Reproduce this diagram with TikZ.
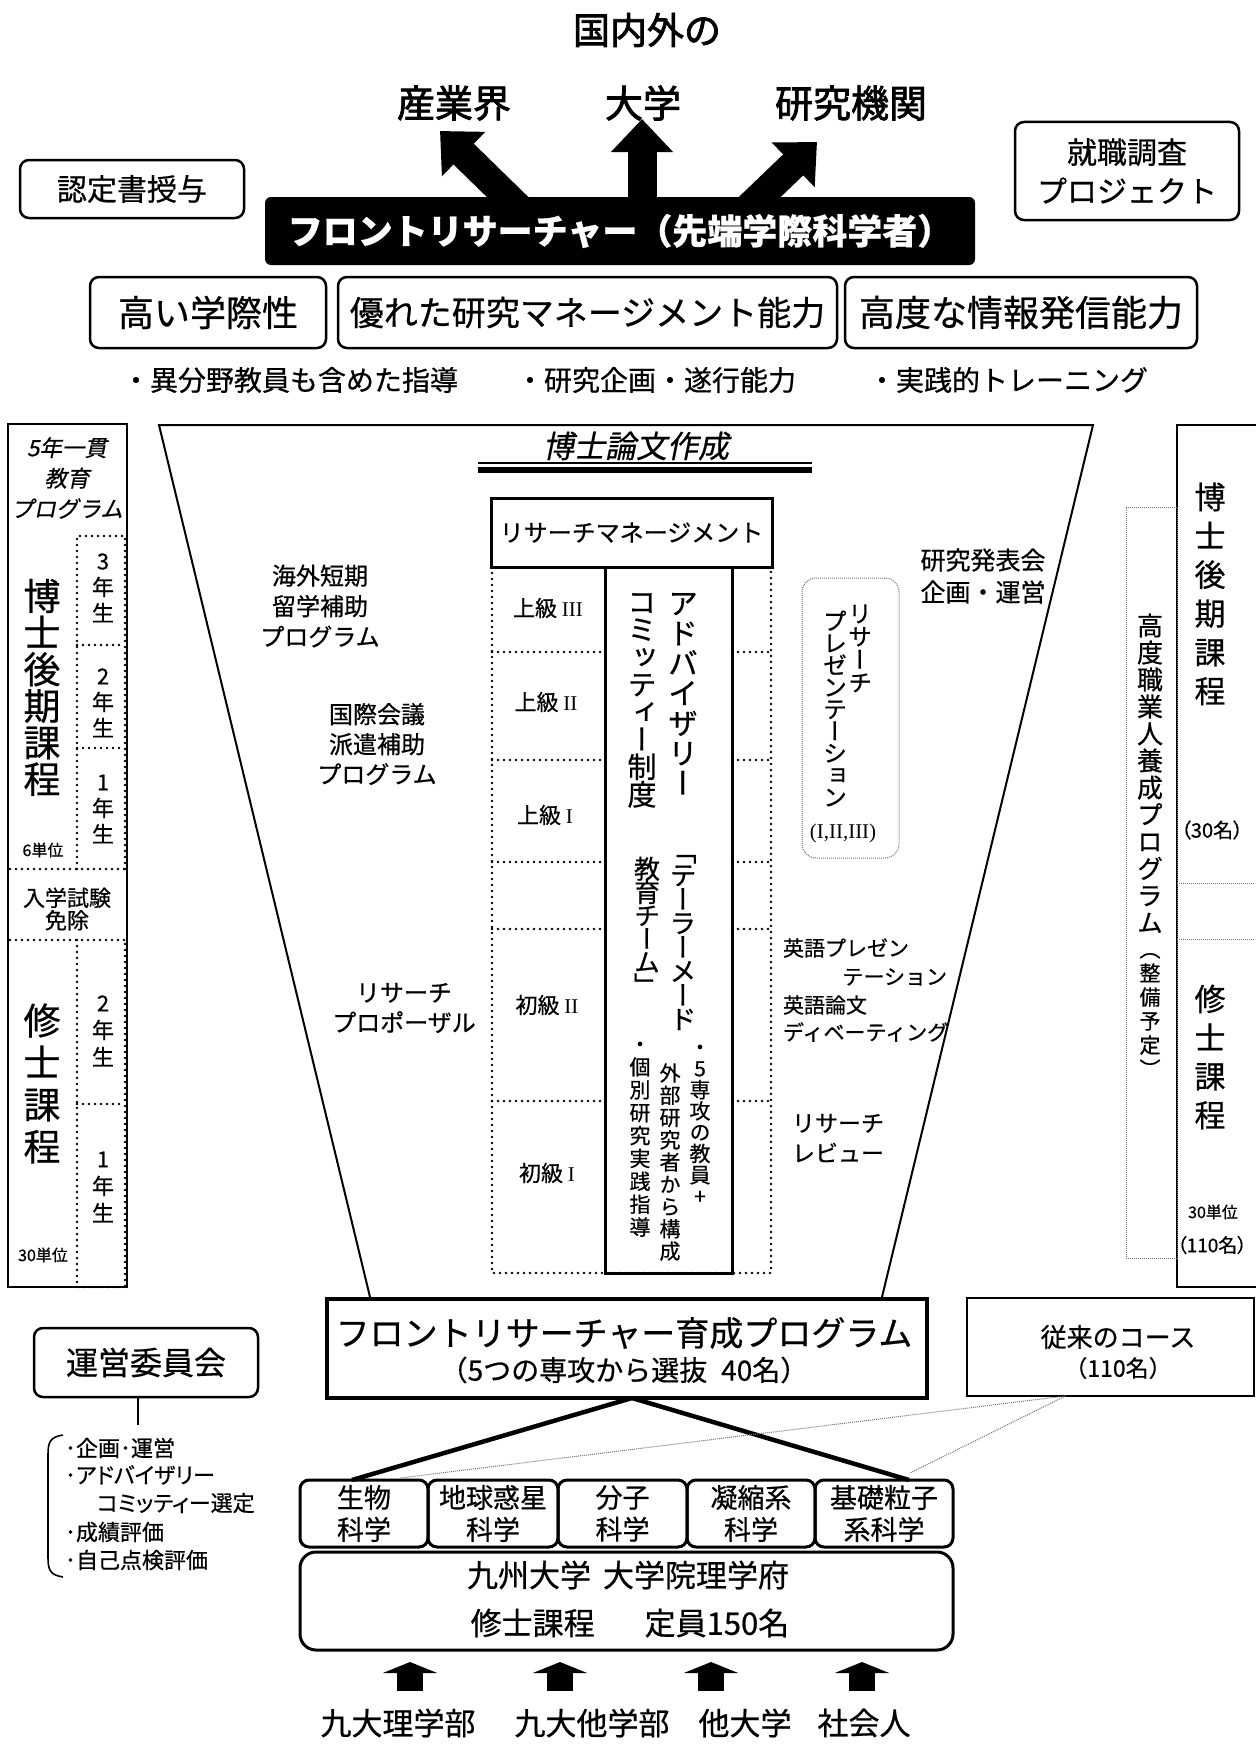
\documentclass[tikz,border=0pt]{standalone}
\usepackage{fontspec}
\setmainfont{Noto Sans CJK JP}[FakeBold=0.6]
\newfontfamily\vfont[RawFeature=+vert,FakeBold=0.6]{Noto Sans CJK JP}
\newfontfamily\slfont[FakeSlant=0.2,FakeBold=0.6]{Noto Sans CJK JP}
\newfontfamily\pfont[RawFeature=+palt,FakeBold=0.6]{Noto Sans CJK JP}
\newfontfamily\tfont[FakeBold=2]{Noto Sans CJK JP}
\newfontfamily\rmn{Liberation Serif}
\usetikzlibrary{arrows.meta,calc}
\newcommand\fs[1]{\fontsize{#1}{#1}\selectfont}
\newcommand\fsb[2]{\fontsize{#1}{#2}\selectfont}
\makeatletter
\newdimen\vtp
\def\vtend{\vtend}
\newcommand\vt[2]{\vtp=#1\relax\vbox{\offinterlineskip\vt@loop#2\vtend}}
\def\vt@loop#1{\ifx\vtend#1\else\vt@cell{#1}\expandafter\vt@loop\fi}
\def\vt@cell#1{\hbox to 1.3em{\hss\vbox to\vtp{\vss\hbox{\vrule height .88em depth .12em width 0pt\relax#1}\vss}\hss}}
\makeatother
\begin{document}
\begin{tikzpicture}[x=1pt,y=-1pt,
  every node/.style={inner sep=0pt, outer sep=0pt},
  rbox/.style={draw, line width=2.5pt, rounded corners=9pt},
  bdot/.style={line width=2.6pt, dash pattern=on 0pt off 6pt, line cap=round},
  fdot/.style={draw=black!55, line width=1pt, dash pattern=on 1pt off 1pt},
  bigup/.style={line width=29pt, -{Triangle[width=60pt,length=33pt]}},
  smallup/.style={line width=26pt, -{Triangle[width=54pt,length=11pt]}}]
\fill[white] (0,0) rectangle (1255,1758);
\useasboundingbox (0,0) rectangle (1255,1758);

% ---------- top ----------
\node[font=\tfont\fs{37}] (kokunai) at (647,30) {国内外の};
\node[font=\tfont\fs{38}] (sangyo) at (454,103) {産業界};
\node[font=\tfont\fs{38}] (daigaku) at (643,103) {大学};
\node[font=\tfont\fs{38}] (kenkyu) at (851,103) {研究機関};

\coordinate (a1s) at (526,215); \coordinate (a1e) at (440,131);
\coordinate (a2s) at (642,215); \coordinate (a2e) at (642,119);
\coordinate (a3s) at (741,215); \coordinate (a3e) at (817,142);
\draw[bigup] (a1s) -- (a1e);
\draw[bigup] (a2s) -- (a2e);
\draw[bigup] (a3s) -- (a3e);

\node[fill=black, rounded corners=6pt, minimum width=710pt, minimum height=68pt,
      text=white, font=\bfseries\fs{35}] (fr) at (620,231) {フロントリサーチャー（先端学際科学者）};

\node[rbox, minimum width=224pt, minimum height=58pt, font=\fs{30}] (nintei) at (132,189) {認定書授与};
\node[rbox, minimum width=224pt, minimum height=98pt, font=\fsb{30}{39}, align=center] (shushoku) at (1127,171) {就職調査\\プロジェクト};

\node[rbox, minimum width=236pt, minimum height=71pt, font=\fs{36}] (gakusai) at (208,312.5) {高い学際性};
\node[rbox, minimum width=499pt, minimum height=71pt, font=\fs{34}] (manage) at (587.5,312.5) {優れた研究マネージメント能力};
\node[rbox, minimum width=352pt, minimum height=71pt, font=\fs{36}] (hasshin) at (1021,312.5) {高度な情報発信能力};

\node[font=\fs{28}] (b1) at (290,380) {・異分野教員も含めた指導};
\node[font=\fs{28}] (b2) at (656,380) {・研究企画・遂行能力};
\node[font=\fs{28}] (b3) at (1008,380) {・実践的トレーニング};

% ---------- funnel ----------
\coordinate (f1) at (159,425); \coordinate (f2) at (1093,425);
\coordinate (f3) at (882,1297); \coordinate (f4) at (370,1297);
\draw[line width=2pt] (f4) -- (f1) -- (f2) -- (f3);

\node[font=\slfont\fs{31}] (hakuron) at (636,446) {博士論文作成};
\draw[line width=1.5pt] (478,463) -- (812,463);
\draw[line width=6pt] (478,470) -- (812,470);

\node[draw, line width=3pt, minimum width=281pt, minimum height=69pt, font=\fs{24}] (rm) at (631.5,532.5) {リサーチマネージメント};
\draw[bdot] (492,567) -- (492,1273) -- (771,1273) -- (771,567);
\foreach \yy in {652,760,862,929,1101} {
  \draw[bdot] (492,\yy) -- (605,\yy);
  \draw[bdot] (732,\yy) -- (771,\yy);
}
\node[draw, line width=3pt, minimum width=127pt, minimum height=706pt] (adv) at (668.5,920) {};

\node[font=\fs{22}] (j3) at (548,608) {上級 {\rmn\fs{21}III}};
\node[font=\fs{22}] (j2) at (546,702) {上級 {\rmn\fs{21}II}};
\node[font=\fs{22}] (j1) at (545,815) {上級 {\rmn\fs{21}I}};
\node[font=\fs{22}] (s2) at (547,1005) {初級 {\rmn\fs{21}II}};
\node[font=\fs{22}] (s1) at (547,1173) {初級 {\rmn\fs{21}I}};

\node[font=\vfont\fs{30}] (v1) at (683,693) {\vt{30pt}{アドバイザリー}};
\node[font=\vfont\fs{29}] (v2) at (642,698) {\vt{27.5pt}{コミッティー制度}};
\node[font=\vfont\fs{27}] (v3) at (683,935) {\vt{24pt}{「テーラーメード}};
\node[font=\vfont\fs{26}] (v4) at (647,927) {\vt{23.3pt}{教育チーム」}};
\node[font=\vfont\fs{21}] (v5) at (700,1121.5) {\vt{21.3pt}{・5専攻の教員+}};
\node[font=\vfont\fs{21}] (v6) at (670,1162) {\vt{22.25pt}{外部研究者から構成}};
\node[font=\vfont\fs{21}] (v7) at (640,1135.5) {\vt{22.9pt}{・個別研究実践指導}};

\node[fdot, rounded corners=14pt, minimum width=97pt, minimum height=280pt] (rp) at (850.5,718) {};
\node[font=\vfont\fs{24}] (rp1) at (860,648) {\vt{23pt}{リサーチ}};
\node[font=\vfont\fs{24}] (rp2) at (835,709) {\vt{22pt}{プレゼンテーション}};
\node[font=\rmn\fs{21}] (rp3) at (843,833) {(I,II,III)};

\node[font=\fsb{24}{30.5}, align=center] (kaigai) at (320,606) {海外短期\\留学補助\\プログラム};
\node[font=\fsb{24}{30}, align=center] (kokusai) at (377,744) {国際会議\\派遣補助\\プログラム};
\node[font=\fsb{24}{30}, align=center] (rprop) at (404,1008) {リサーチ\\プロポーザル};

\node[font=\fsb{25}{32}, align=center] (happyo) at (983,576) {研究発表会\\企画・運営};
\node[font=\fs{21}, anchor=west] (eigo1) at (783,948) {英語プレゼン};
\node[font=\fs{21}, anchor=east] (eigo2) at (947,977) {テーション};
\node[font=\fs{21}, anchor=west] (eigo3) at (783,1005) {英語論文};
\node[font=\fs{21}, anchor=west] (eigo4) at (783,1032) {ディベーティング};
\node[font=\fsb{23}{30}, align=left, anchor=west] (review) at (792,1138) {リサーチ\\レビュー};

% ---------- left column ----------
\node[draw, line width=2.5pt, minimum width=119pt, minimum height=863pt] (lcol) at (67.5,855.5) {};
\draw[bdot] (77,869) -- (77,536) -- (125,536) -- (125,869);
\draw[bdot] (77,645) -- (125,645);
\draw[bdot] (77,748) -- (125,748);
\draw[bdot] (10,869) -- (125,869);
\draw[bdot] (10,940) -- (125,940);
\draw[bdot] (77,940) -- (77,1287) -- (125,1287) -- (125,940);
\draw[bdot] (77,1104) -- (125,1104);

\node[font=\slfont\fsb{22.5}{30.5}, align=center] (ikkan) at (67,478) {5年一貫\\教育\\プログラム};
\node[font=\vfont\fs{37}] (hakase) at (42,687.5) {\vt{36.6pt}{博士後期課程}};
\node[font=\vfont\fs{22}] (y3) at (103,587) {\vt{26pt}{3年生}};
\node[font=\vfont\fs{22}] (y2) at (103,702) {\vt{26pt}{2年生}};
\node[font=\vfont\fs{22}] (y1) at (103,808) {\vt{26pt}{1年生}};
\node[font=\fs{16}] (u6) at (43,850) {6単位};
\node[font=\fsb{22}{22.5}, align=center] (menjo) at (67,909) {入学試験\\免除};
\node[font=\vfont\fs{37}] (shushi) at (42,1083.5) {\vt{42pt}{修士課程}};
\node[font=\vfont\fs{22}] (y2m) at (103,1030) {\vt{27pt}{2年生}};
\node[font=\vfont\fs{22}] (y1m) at (103,1186) {\vt{27pt}{1年生}};
\node[font=\fs{16}] (u30) at (43,1255) {30単位};

% ---------- right column ----------
\draw[line width=1.5pt] (1256,425) -- (1177,425) -- (1177,1287) -- (1256,1287);
\draw[fdot] (1177,883) -- (1255,883);
\draw[fdot] (1177,939) -- (1255,939);
\node[font=\vfont\fs{31}] (rhak) at (1210,594) {\vt{38.8pt}{博士後期課程}};
\node[font=\pfont\fs{20}] (r30) at (1212,830) {（30名）};
\node[font=\vfont\fs{31}] (rshu) at (1210,1057) {\vt{38.7pt}{修士課程}};
\node[font=\fs{16}] (r30u) at (1213,1212) {30単位};
\node[font=\pfont\fs{19}] (r110) at (1212,1245) {（110名）};

\node[fdot, minimum width=51pt, minimum height=751pt] (kodo) at (1151.5,882.5) {};
\node[font=\vfont\fs{26}] (kodot) at (1150,774) {\vt{27pt}{高度職業人養成プログラム}};
\node[font=\vfont\fs{21}] (seibi) at (1150,1009) {\vt{24pt}{（整備予定）}};

% ---------- bottom ----------
\node[draw, line width=4pt, minimum width=600pt, minimum height=99pt] (frp) at (627,1348.5) {};
\node[font=\fs{34}] (frp1) at (624,1333) {フロントリサーチャー育成プログラム};
\node[font=\fs{28}] (frp2) at (624,1370) {（5つの専攻から選抜\hspace{14pt}40名）};

\node[draw, line width=1.5pt, minimum width=287pt, minimum height=98pt] (juurai) at (1110.5,1347) {};
\node[font=\fs{26}] (jt1) at (1118,1337) {従来のコース};
\node[font=\fs{23}] (jt2) at (1118,1368) {（110名）};

\node[rbox, line width=3pt, minimum width=128pt, minimum height=67pt, font=\fsb{27}{32}, align=center] (d1) at (364,1513.5) {生物\\科学};
\node[rbox, line width=3pt, minimum width=130pt, minimum height=67pt, font=\fsb{27}{32}, align=center] (d2) at (493,1513.5) {地球惑星\\科学};
\node[rbox, line width=3pt, minimum width=129pt, minimum height=67pt, font=\fsb{27}{32}, align=center] (d3) at (622.5,1513.5) {分子\\科学};
\node[rbox, line width=3pt, minimum width=128pt, minimum height=67pt, font=\fsb{27}{32}, align=center] (d4) at (751,1513.5) {凝縮系\\科学};
\node[rbox, line width=3pt, minimum width=138pt, minimum height=67pt, font=\fsb{27}{32}, align=center] (d5) at (884,1513.5) {基礎粒子\\系科学};

\draw[line width=4.5pt] ([xshift=5pt]frp.south) -- ([xshift=-12pt]d1.north);
\draw[line width=4.5pt] ([xshift=5pt]frp.south) -- ([xshift=25pt]d5.north);
\draw[fdot] ([xshift=-45pt]juurai.south) -- ([xshift=36pt,yshift=2pt]d1.north);
\draw[fdot] ([xshift=-45pt]juurai.south) -- ([xshift=26pt,yshift=7pt]d5.north);

\node[rbox, line width=3pt, rounded corners=16pt, minimum width=653pt, minimum height=98pt] (univ) at (626.5,1601) {};
\node[font=\fs{31}] (un1) at (628,1575) {九州大学\hspace{12pt}大学院理学府};
\node[font=\fs{31}] (un2) at (630,1623) {修士課程\hspace{50pt}定員150名};

\node[rbox, minimum width=224pt, minimum height=69pt, font=\fs{32}] (unei) at (146,1362.5) {運営委員会};
\coordinate (ubr) at (138,1425);
\draw[line width=2pt] (unei.south -| ubr) -- (ubr);
\draw[line width=1.6pt] (63,1435) .. controls (50,1437) and (48,1442) .. (48,1455) -- (48,1557) .. controls (48,1570) and (50,1575) .. (63,1577);
\node[font=\fs{22}, anchor=west] (l1) at (65,1448) {･企画･運営};
\node[font=\pfont\fs{22}, anchor=west] (l2) at (65,1475) {･アドバイザリー};
\node[font=\pfont\fs{22}, anchor=west] (l3) at (97,1503) {コミッティー選定};
\node[font=\fs{22}, anchor=west] (l4) at (65,1532) {･成績評価};
\node[font=\fs{22}, anchor=west] (l5) at (65,1560) {･自己点検評価};

\coordinate (ba1s) at (410,1691); \coordinate (ba1e) at (410,1662);
\coordinate (ba2s) at (560,1691); \coordinate (ba2e) at (560,1662);
\coordinate (ba3s) at (711,1691); \coordinate (ba3e) at (711,1662);
\coordinate (ba4s) at (862,1691); \coordinate (ba4e) at (862,1662);
\draw[smallup] (ba1s) -- (ba1e);
\draw[smallup] (ba2s) -- (ba2e);
\draw[smallup] (ba3s) -- (ba3e);
\draw[smallup] (ba4s) -- (ba4e);

\node[font=\fs{31}] (src1) at (398,1723) {九大理学部};
\node[font=\fs{31}] (src2) at (592,1723) {九大他学部};
\node[font=\fs{31}] (src3) at (745,1723) {他大学};
\node[font=\fs{31}] (src4) at (864,1723) {社会人};
\end{tikzpicture}
\end{document}
